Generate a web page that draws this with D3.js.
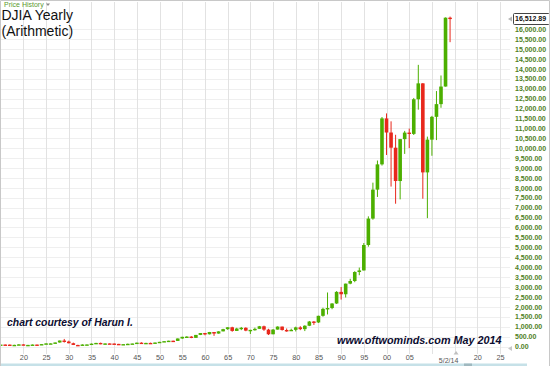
<!DOCTYPE html>
<html>
<head>
<meta charset="utf-8">
<script src="https://cdn.jsdelivr.net/npm/d3@7"></script>
<style>
  html, body { margin: 0; padding: 0; background: #fff; }
  svg { display: block; }
</style>
</head>
<body>
<svg id="chart" width="550" height="366"></svg>
<script>
// ---------------- DATA ----------------
const years = [1915,1916,1917,1918,1919,1920,1921,1922,1923,1924,1925,1926,1927,1928,1929,1930,1931,1932,1933,1934,
  1935,1936,1937,1938,1939,1940,1941,1942,1943,1944,1945,1946,1947,1948,1949,1950,1951,1952,1953,1954,
  1955,1956,1957,1958,1959,1960,1961,1962,1963,1964,1965,1966,1967,1968,1969,1970,1971,1972,1973,1974,
  1975,1976,1977,1978,1979,1980,1981,1982,1983,1984,1985,1986,1987,1988,1989,1990,1991,1992,1993,1994,
  1995,1996,1997,1998,1999,2000,2001,2002,2003,2004,2005,2006,2007,2008,2009,2010,2011,2012,2013,2014];
const openV = [54.6,99.2,95.0,74.4,82.2,107.2,72.0,81.1,98.7,95.5,120.5,156.7,157.2,202.4,300.0,248.5,164.6,77.9,59.9,99.9,
  104.0,144.1,179.9,120.9,154.8,150.2,131.1,111.0,119.4,135.9,152.3,192.9,177.2,181.2,177.3,200.1,235.4,269.2,291.9,280.9,
  404.4,488.4,499.5,435.7,583.7,679.4,615.9,731.1,652.1,763.0,874.1,969.3,785.7,905.1,943.8,800.4,838.9,890.2,1020.0,850.9,
  616.2,852.4,1004.7,831.2,805.0,838.7,964.0,875.0,1046.5,1258.6,1211.6,1546.7,1896.0,1938.8,2168.6,2753.2,2633.7,3168.8,3301.1,3754.1,
  3834.4,5117.1,6448.3,7908.3,9181.4,11497.1,10786.9,10021.5,8341.6,10453.9,10783.0,10717.5,12463.2,13264.8,8776.4,10428.1,11577.5,12217.6,13104.1,16576.7];
const highV = [54.6,110.2,99.2,89.1,119.6,109.9,81.5,103.4,105.4,120.5,159.4,166.6,202.4,300.0,381.2,294.1,194.4,88.8,108.7,110.7,
  148.4,184.9,194.4,158.4,155.9,152.8,133.6,119.7,145.8,152.5,195.8,212.5,186.9,193.2,200.5,235.5,276.4,292.0,293.8,404.4,
  488.4,521.1,520.8,583.7,679.4,685.5,734.9,731.1,767.2,891.7,969.3,995.2,943.1,985.2,968.9,842.0,950.8,1036.3,1051.7,891.7,
  881.8,1014.8,1004.7,907.7,897.6,1000.2,1024.1,1070.6,1287.2,1286.6,1553.1,1955.6,2722.4,2183.5,2791.4,2999.8,3168.8,3413.2,3794.3,3978.4,
  5216.5,6560.9,8259.3,9374.3,11568.8,11750.3,11350.1,10673.1,10462.4,10868.1,10984.5,12529.9,14198.1,13279.5,10580.3,11625.0,12876.0,13661.9,16588.3,16631.6];
const lowV = [54.2,84.9,65.9,73.4,79.2,67.0,63.9,78.6,85.8,88.3,115.0,135.2,152.7,191.3,198.7,157.5,73.8,41.2,50.2,85.5,
  96.7,143.1,113.6,99.0,121.4,111.8,106.3,92.9,119.3,134.2,151.4,163.1,163.2,165.4,161.6,196.8,235.4,256.4,255.5,279.9,
  388.2,462.4,419.8,435.7,574.5,566.1,610.3,535.8,646.8,763.0,840.6,744.3,785.7,825.1,769.9,631.2,798.0,889.2,788.3,577.6,
  616.2,852.4,800.9,742.1,796.7,759.1,824.0,776.9,1027.0,1086.6,1184.9,1502.3,1616.2,1879.1,2144.6,2365.1,2470.3,3136.6,3241.9,3593.4,
  3832.1,5032.9,6391.7,7539.1,9120.7,9654.6,8062.3,7197.5,7416.6,9708.4,10000.5,10661.2,11939.6,7449.4,6469.9,9614.3,10404.5,12035.1,13104.1,15340.7];
const closeV = [99.2,95.0,74.4,82.2,107.2,72.0,81.1,98.7,95.5,120.5,156.7,157.2,202.4,300.0,248.5,164.6,77.9,59.9,99.9,104.0,
  144.1,179.9,120.9,154.8,150.2,131.1,111.0,119.4,135.9,152.3,192.9,177.2,181.2,177.3,200.1,235.4,269.2,291.9,280.9,404.4,
  488.4,499.5,435.7,583.7,679.4,615.9,731.1,652.1,763.0,874.1,969.3,785.7,905.1,943.8,800.4,838.9,890.2,1020.0,850.9,616.2,
  852.4,1004.7,831.2,805.0,838.7,964.0,875.0,1046.5,1258.6,1211.6,1546.7,1896.0,1938.8,2168.6,2753.2,2633.7,3168.8,3301.1,3754.1,3834.4,
  5117.1,6448.3,7908.3,9181.4,11497.1,10786.9,10021.5,8341.6,10453.9,10783.0,10717.5,12463.2,13264.8,8776.4,10428.1,11577.5,12217.6,13104.1,16576.7,16512.89];

const yTickValues = d3.range(0, 16001, 500);
const xTickYears = d3.range(1920, 2026, 5);
const xTickLabels = ["20","25","30","35","40","45","50","55","60","65","70","75","80","85","90","95","00","05","","","20","25"];
const lastValue = 16512.89;
const lastDateLabel = "5/2/14";
const lastDateYear = 2014 + 4/12;
const titleLines = ["DJIA Yearly", "(Arithmetic)"];
const noteLeft = "chart courtesy of Harun I.";
const noteRight = "www.oftwominds.com May 2014";

// ---------------- CHART ----------------
const svg = d3.select("#chart");
const W = 550, H = 366;

const x = d3.scaleLinear().domain([1920, 2025]).range([23.4, 500]);
const y = d3.scaleLinear().domain([0, 16000]).range([346.5, 29.1]);

const data = years.map((yr, i) => ({ yr, o: openV[i], h: highV[i], l: lowV[i], c: closeV[i] }));

// background
svg.append("rect").attr("width", W).attr("height", H).attr("fill", "#fff");

// horizontal grid
svg.append("g").selectAll("line").data(yTickValues).join("line")
  .attr("x1", 0).attr("x2", 510)
  .attr("y1", d => Math.round(y(d)) + 0.5).attr("y2", d => Math.round(y(d)) + 0.5)
  .attr("stroke", "#efefef").attr("stroke-width", 1);

// vertical grid
svg.append("g").selectAll("line").data(xTickYears).join("line")
  .attr("x1", d => Math.round(x(d)) + 0.5).attr("x2", d => Math.round(x(d)) + 0.5)
  .attr("y1", 2).attr("y2", 354)
  .attr("stroke", "#e2e2e2").attr("stroke-width", 1);

// candles
const green = "#4caf00", red = "#e8281c";
const bw = 3.6;
const cg = svg.append("g");
cg.selectAll("line").data(data).join("line")
  .attr("x1", d => x(d.yr)).attr("x2", d => x(d.yr))
  .attr("y1", d => y(d.h)).attr("y2", d => y(d.l))
  .attr("stroke", d => d.c >= d.o ? green : red)
  .attr("stroke-width", 1);
cg.selectAll("rect").data(data).join("rect")
  .attr("x", d => x(d.yr) - bw / 2)
  .attr("width", bw)
  .attr("y", d => Math.min(y(d.o), y(d.c)))
  .attr("height", d => Math.max(1.4, Math.abs(y(d.o) - y(d.c))))
  .attr("fill", d => d.c >= d.o ? green : red);

// y axis labels (right)
const yAxis = d3.axisRight(y).tickValues(yTickValues).tickSize(0).tickPadding(0)
  .tickFormat(d3.format(",.2f"));
const yg = svg.append("g").attr("transform", "translate(515,0)").call(yAxis);
yg.select(".domain").remove();
yg.selectAll("text")
  .attr("fill", "#4f7f26")
  .attr("font-family", "'Liberation Sans', Arial, sans-serif")
  .attr("font-size", "7px")
  .attr("font-weight", "bold");

// current value box
const ly = y(lastValue);
svg.append("rect").attr("x", 513.5).attr("y", Math.round(ly) - 5.5).attr("width", 36).attr("height", 11)
  .attr("fill", "#fff").attr("stroke", "#444").attr("stroke-width", 1).attr("rx", 1);
svg.append("text").attr("x", 515).attr("y", ly).attr("dy", "0.35em")
  .attr("font-family", "'Liberation Sans', Arial, sans-serif").attr("font-size", "7px")
  .attr("font-weight", "bold").attr("fill", "#111")
  .text(d3.format(",.2f")(lastValue));
svg.append("path").attr("d", `M508,${ly} l4,-2.5 l0,5 Z`).attr("fill", "#b5b5b5");
svg.append("path").attr("d", `M508,${y(0) + 2} l4,-2.5 l0,5 Z`).attr("fill", "#c8c8c8");

// x axis labels
const xAxis = d3.axisBottom(x).tickValues(xTickYears).tickSize(0).tickPadding(0)
  .tickFormat((d, i) => xTickLabels[i]);
const xg = svg.append("g").attr("transform", "translate(0,355)").call(xAxis);
xg.select(".domain").remove();
xg.selectAll("text")
  .attr("fill", "#555").attr("font-family", "'Liberation Sans', Arial, sans-serif")
  .attr("font-size", "7.3px");
svg.append("text").attr("x", x(lastDateYear) - 3).attr("y", 363)
  .attr("text-anchor", "middle").attr("fill", "#555")
  .attr("font-family", "'Liberation Sans', Arial, sans-serif").attr("font-size", "7px")
  .text(lastDateLabel);
svg.append("path").attr("d", `M${x(lastDateYear) + 4.5},351 l-2.5,3.5 l5,0 Z`).attr("fill", "#c0c0c0");

// bottom strip
svg.append("rect").attr("x", 0).attr("y", 363.5).attr("width", 527).attr("height", 2.5).attr("fill", "#c6e1e8");
svg.append("rect").attr("x", 464).attr("y", 363.5).attr("width", 8).attr("height", 2.5).attr("fill", "#9fb8bf");

// frame
svg.append("path").attr("d", "M0.5,366 L0.5,0.5 L549.5,0.5 L549.5,366")
  .attr("fill", "none").attr("stroke", "#c8c8c8");

// header
svg.append("text").attr("x", 4).attr("y", 6.5)
  .attr("font-family", "'Liberation Sans', Arial, sans-serif").attr("font-size", "7px")
  .attr("fill", "#5a9a2e").text("Price History");
svg.append("path").attr("d", "M46,3.5 l4,0 l-2,2.5 Z").attr("fill", "#888");

// title
const tt = svg.append("text").attr("font-family", "'Liberation Sans', Arial, sans-serif")
  .attr("font-size", "14px").attr("fill", "#111");
tt.selectAll("tspan").data(titleLines).join("tspan")
  .attr("x", 1.5).attr("y", (d, i) => 19.5 + i * 16).text(d => d);

// annotations
svg.append("text").attr("x", 7).attr("y", 326)
  .attr("font-family", "'Liberation Sans', Arial, sans-serif").attr("font-size", "10.4px")
  .attr("font-style", "italic").attr("font-weight", "bold").attr("fill", "#0c0c30")
  .text(noteLeft);
svg.append("text").attr("x", 337).attr("y", 343.5)
  .attr("font-family", "'Liberation Sans', Arial, sans-serif").attr("font-size", "10.8px")
  .attr("font-style", "italic").attr("font-weight", "bold").attr("fill", "#0c0c30")
  .text(noteRight);
</script>
</body>
</html>
